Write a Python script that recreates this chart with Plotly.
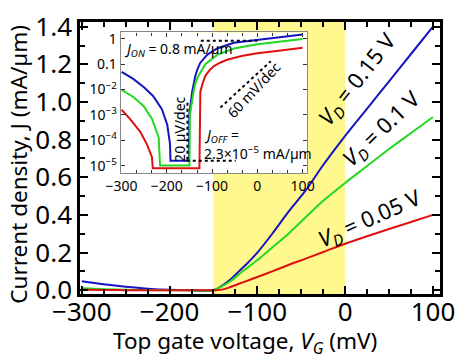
import plotly.graph_objects as go

# ---------------- main panel data (linear J) ----------------
vg_main = [-300, -275, -250, -225, -200, -175, -150, -140, -130, -121, -110, -100,
           -83, -64, -45, -25, 0, 25, 50, 75, 100]
j_main_015 = [0.047, 0.031, 0.018, 0.008, 0.002, 0.0, 0.0, 0.025, 0.06, 0.10, 0.15, 0.20,
              0.30, 0.42, 0.53, 0.665, 0.82, 0.965, 1.11, 1.255, 1.40]
j_main_010 = [0.010, 0.005, 0.002, 0.0005, 0.0, 0.0, 0.0, 0.022, 0.05, 0.084, 0.124, 0.16,
              0.227, 0.303, 0.388, 0.475, 0.57, 0.66, 0.75, 0.835, 0.92]
j_main_005 = [0.002, 0.001, 0.0, 0.0, 0.0, 0.0, 0.0, 0.003, 0.018, 0.034, 0.053, 0.07,
              0.10, 0.135, 0.168, 0.203, 0.247, 0.287, 0.325, 0.362, 0.40]

# ---------------- inset data (log J) ----------------
vg_in_015 = [-300, -275, -250, -230, -211, -199, -193, -192, -151, -150.5, -144, -140, -137,
             -132, -126, -111, -89, -52, 0, 52, 100]
j_in_015 = [0.050, 0.027, 0.012, 0.0055, 0.0017, 4.0e-4, 7.1e-5, 1.55e-5, 1.55e-5, 1e-3, 8.3e-3,
            0.02, 0.035, 0.066, 0.115, 0.234, 0.417, 0.70, 0.92, 1.2, 1.5]
vg_in_010 = [-300, -274, -252, -233, -218, -215, -150, -149, -141, -136, -130, -122, -115,
             -89, -52, 0, 52, 100]
j_in_010 = [0.0098, 0.0051, 0.0023, 7.1e-4, 1.26e-4, 1.02e-5, 1.02e-5, 1e-3, 8.3e-3, 0.02,
            0.035, 0.063, 0.10, 0.234, 0.417, 0.62, 0.81, 1.0]
vg_in_005 = [-300, -282, -259, -244, -233, -231, -128, -127, -126, -120, -115, -105, -96,
             -80, -67, -35, 0, 52, 100]
j_in_005 = [0.0016, 7.1e-4, 2.2e-4, 6.9e-5, 2.2e-5, 7.9e-6, 7.9e-6, 1e-3, 8.3e-3, 0.02, 0.035,
            0.06, 0.085, 0.12, 0.15, 0.21, 0.27, 0.35, 0.45]

inset_yticks = [1, 0.1, 1e-2, 1e-3, 1e-4, 1e-5]
inset_yticktext = ["1", "0.1", "10<sup>\u22122</sup>", "10<sup>\u22123</sup>",
                   "10<sup>\u22124</sup>", "10<sup>\u22125</sup>"]

BLUE = "#1414c0"
GREEN = "#22d822"
RED = "#e01010"
YELLOW = "#fff88f"
FONT = "Noto Sans"

fig = go.Figure()

for vg, j, c in [(vg_main, j_main_015, BLUE), (vg_main, j_main_010, GREEN), (vg_main, j_main_005, RED)]:
    fig.add_trace(go.Scatter(x=vg, y=j, mode="lines", line=dict(color=c, width=2),
                             line_shape="spline", xaxis="x", yaxis="y", showlegend=False))

for vg, j, c in [(vg_in_015, j_in_015, BLUE), (vg_in_010, j_in_010, GREEN), (vg_in_005, j_in_005, RED)]:
    fig.add_trace(go.Scatter(x=vg, y=j, mode="lines", line=dict(color=c, width=2),
                             xaxis="x2", yaxis="y2", showlegend=False))

# dotted guide lines in inset
guides = [
    ([-125, 0], [0.85, 0.85]),                 # J_ON
    ([-156, -48], [1.55e-5, 1.55e-5]),         # J_OFF
    ([-154.5, -154.5], [3.0e-3, 1.7e-5]),      # 20 uV/dec
    ([-81.6, 29.6], [10 ** -2.71, 10 ** -0.88]),  # 60 mV/dec
]
for gx, gy in guides:
    fig.add_trace(go.Scatter(x=gx, y=gy, mode="lines", line=dict(color="black", width=2, dash="dot"),
                             xaxis="x2", yaxis="y2", showlegend=False))

shapes = [
    dict(type="rect", xref="x", yref="y domain", x0=-150, x1=0, y0=0, y1=1,
         fillcolor=YELLOW, line=dict(width=0), layer="below"),
    dict(type="rect", xref="x2", yref="y2 domain", x0=-155, x1=0, y0=0, y1=1,
         fillcolor=YELLOW, line=dict(width=0), layer="below"),
]

annotations = [
    dict(x=0.458, y=-0.1783, xref="paper", yref="paper", xanchor="center", yanchor="middle",
         text="Top gate voltage, <i>V</i><sub><i>G</i></sub> (mV)", showarrow=False,
         font=dict(size=22.5, color="black", family=FONT)),
    dict(x=-0.1694, y=0.4755, xref="paper", yref="paper", xanchor="center", yanchor="middle",
         text="Current density, J (mA/\u00b5m)", textangle=-90, showarrow=False,
         font=dict(size=22.5, color="black", family=FONT)),
    dict(x=15, y=1.12, xref="x", yref="y", text="<i>V</i><sub><i>D</i></sub> = 0.15 V",
         textangle=-52, showarrow=False, font=dict(size=22, color="black", family=FONT)),
    dict(x=41.6, y=0.859, xref="x", yref="y", text="<i>V</i><sub><i>D</i></sub> = 0.1 V",
         textangle=-44, showarrow=False, font=dict(size=22, color="black", family=FONT)),
    dict(x=28.3, y=0.379, xref="x", yref="y", text="<i>V</i><sub><i>D</i></sub> = 0.05 V",
         textangle=-24, showarrow=False, font=dict(size=22, color="black", family=FONT)),
    dict(x=-298, y=-0.43, xref="x2", yref="y2", xanchor="left",
         text="<i>J</i><sub><i>ON</i></sub> = 0.8 mA/\u00b5m",
         showarrow=False, font=dict(size=14, color="black", family=FONT)),
    dict(x=-172, y=-3.57, xref="x2", yref="y2", text="20 \u00b5V/dec", textangle=-90,
         showarrow=False, font=dict(size=14, color="black", family=FONT)),
    dict(x=-7.5, y=-2.01, xref="x2", yref="y2", text="60 mV/dec", textangle=-47,
         showarrow=False, font=dict(size=14, color="black", family=FONT)),
    dict(x=-122, y=-3.83, xref="x2", yref="y2", xanchor="left",
         text="<i>J</i><sub><i>OFF</i></sub> =",
         showarrow=False, font=dict(size=14, color="black", family=FONT)),
    dict(x=-122, y=-4.5, xref="x2", yref="y2", xanchor="left",
         text="2.3\u00d710<sup>\u22125</sup> mA/\u00b5m",
         showarrow=False, font=dict(size=14, color="black", family=FONT)),
]

fig.update_layout(
    width=462, height=356,
    margin=dict(l=72, r=30, t=0, b=70),
    paper_bgcolor="white", plot_bgcolor="white",
    font=dict(family=FONT, color="black"),
    shapes=shapes, annotations=annotations,
    xaxis=dict(
        domain=[0, 1], range=[-302, 108], tick0=0, dtick=100,
        ticks="inside", ticklen=8, tickwidth=2, tickcolor="black",
        showline=True, linewidth=2.5, linecolor="black", mirror="ticks",
        showgrid=False, zeroline=False, ticklabelstandoff=-7,
        minor=dict(dtick=25, ticks="inside", ticklen=5, tickwidth=1.5, tickcolor="black"),
        tickfont=dict(size=26, family=FONT),
    ),
    yaxis=dict(
        domain=[0, 1], range=[-0.0202, 1.425], tick0=0, dtick=0.2, tickformat=".1f",
        ticks="inside", ticklen=8, tickwidth=2, tickcolor="black",
        showline=True, linewidth=2.5, linecolor="black", mirror="ticks",
        showgrid=False, zeroline=False, ticklabeloverflow="allow",
        minor=dict(dtick=0.1, ticks="inside", ticklen=5, tickwidth=1.5, tickcolor="black"),
        tickfont=dict(size=26, family=FONT),
    ),
    xaxis2=dict(
        domain=[0.113, 0.631], anchor="y2", range=[-302, 110], tick0=0, dtick=100,
        ticks="inside", ticklen=4, tickwidth=1, tickcolor="#333",
        showline=True, linewidth=1.2, linecolor="#888", mirror="ticks",
        showgrid=False, zeroline=False,
        minor=dict(dtick=100 / 3, ticks="inside", ticklen=3, tickwidth=1, tickcolor="#333"),
        tickfont=dict(size=14, family=FONT),
    ),
    yaxis2=dict(
        domain=[0.445, 0.9615], anchor="x2", type="log", range=[-5.29, 0.253],
        tickvals=inset_yticks, ticktext=inset_yticktext,
        ticks="inside", ticklen=4, tickwidth=1, tickcolor="#333",
        showline=True, linewidth=1.2, linecolor="#888", mirror="ticks",
        showgrid=False, zeroline=False,
        tickfont=dict(size=14, family=FONT),
    ),
)

fig.write_html("out.html")
